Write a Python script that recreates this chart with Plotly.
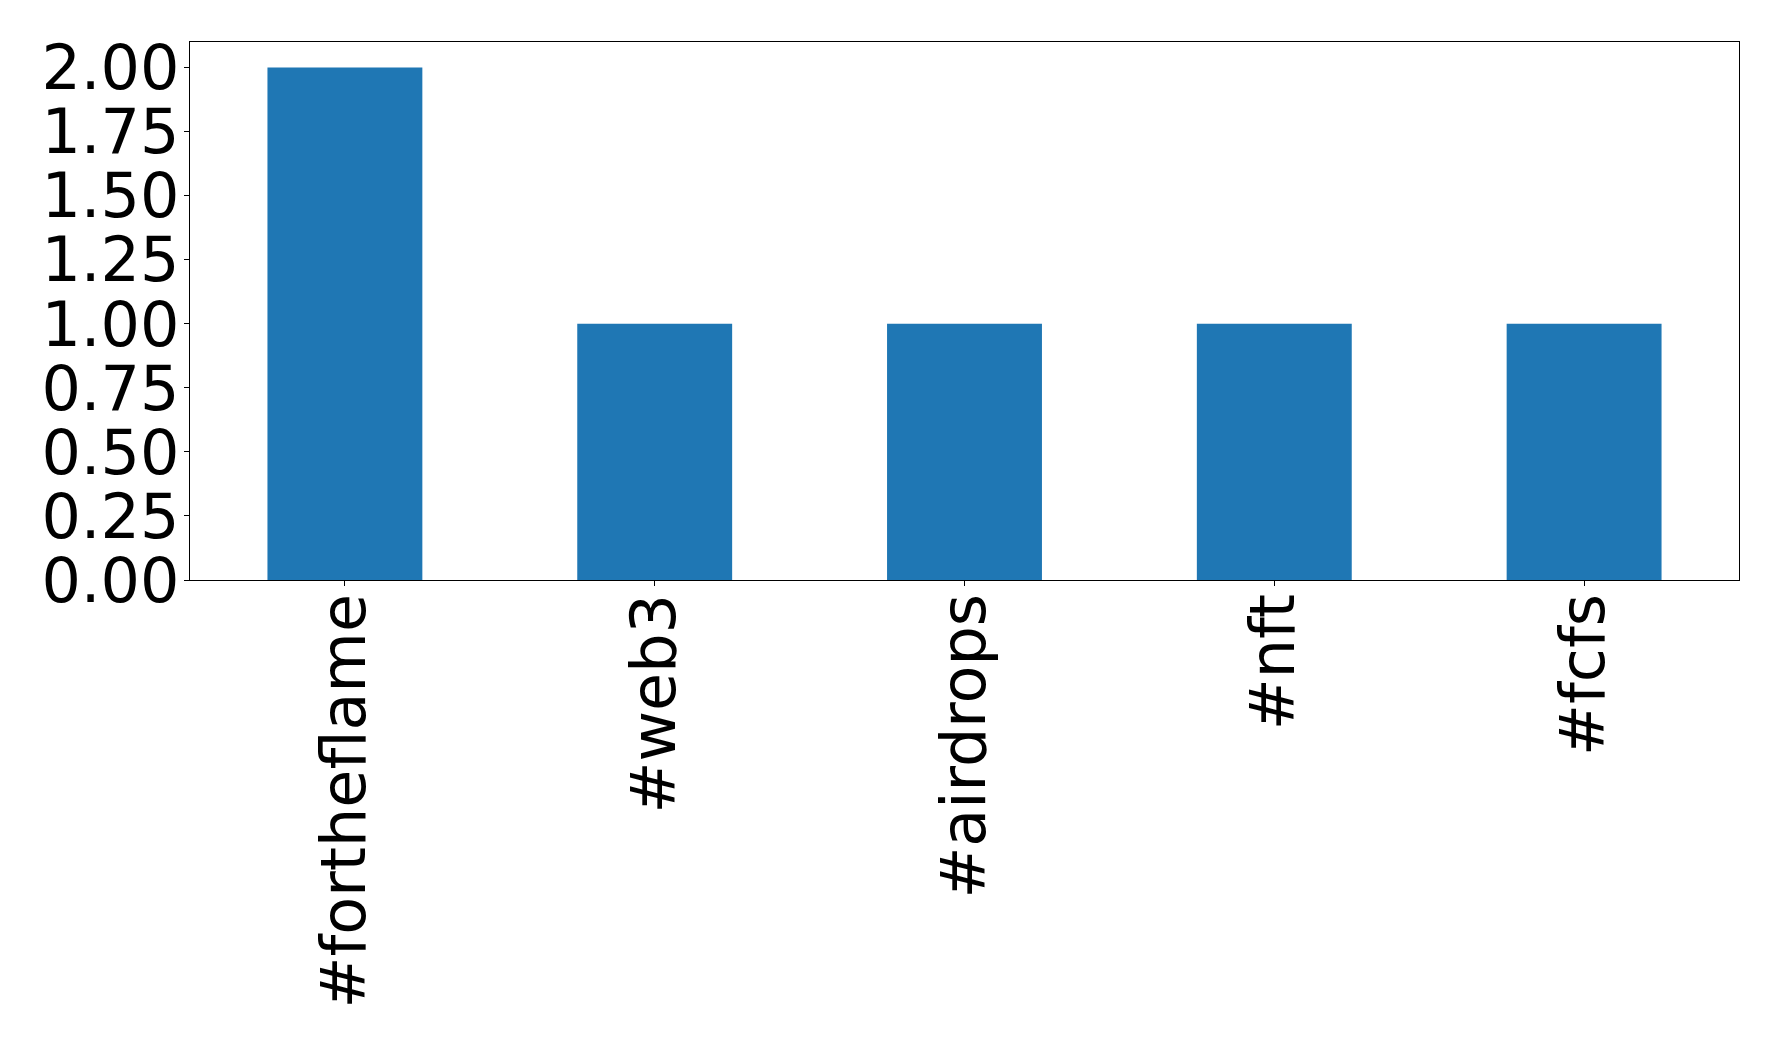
import plotly.graph_objects as go

categories = ["#fortheflame", "#web3", "#airdrops", "#nft", "#fcfs"]
counts = [2, 1, 1, 1, 1]
y_ticks = [0, 0.25, 0.5, 0.75, 1.0, 1.25, 1.5, 1.75, 2.0]
y_tick_labels = ["0.00", "0.25", "0.50", "0.75", "1.00", "1.25", "1.50", "1.75", "2.00"]

fig = go.Figure(go.Bar(x=categories, y=counts, width=0.5, marker=dict(color="#1f77b4", line=dict(width=0))))

font = dict(family="DejaVu Sans", size=62, color="black")
fig.update_layout(
    width=1762, height=1030,
    margin=dict(l=182, r=31, t=34, b=458),
    paper_bgcolor="white", plot_bgcolor="white",
    showlegend=False,
    font=font,
)
fig.update_xaxes(
    range=[-0.5, 4.5], tickangle=-90, tickfont=font, ticklabelstandoff=-17,
    showline=True, linecolor="black", linewidth=1.3, mirror=True,
    ticks="outside", ticklen=5, tickcolor="black", showgrid=False,
)
fig.update_yaxes(
    range=[0, 2.1], tickvals=y_ticks, ticktext=y_tick_labels, tickfont=font, ticklabelstandoff=-8,
    showline=True, linecolor="black", linewidth=1.3, mirror=True,
    ticks="outside", ticklen=5, tickcolor="black", showgrid=False, zeroline=False,
)
fig.write_html("out.html")
